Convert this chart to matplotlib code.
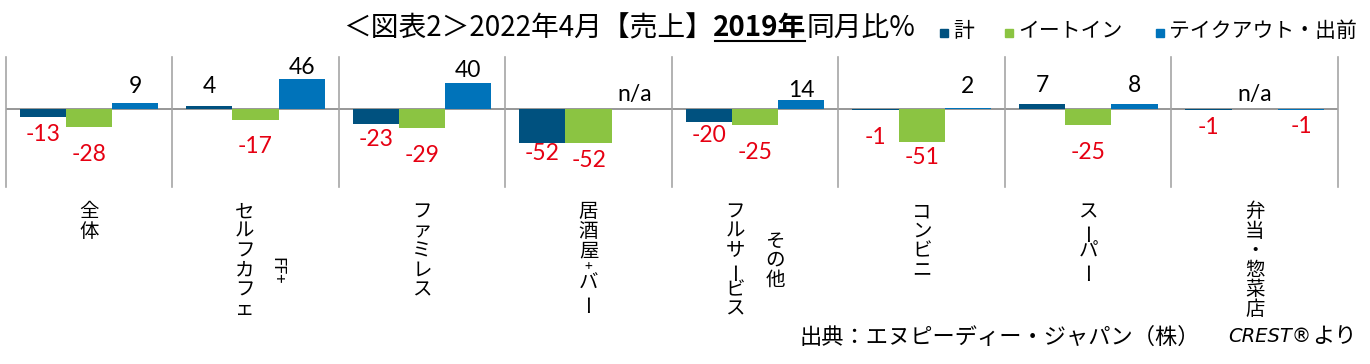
import matplotlib
matplotlib.use("Agg")
import matplotlib.pyplot as plt
import numpy as np
from matplotlib.transforms import blended_transform_factory
from matplotlib.patches import Rectangle

plt.rcParams['font.family'] = ['Noto Sans CJK JP', 'DejaVu Sans']

# data
categories = ["全体", "セルフカフェ\nFF+", "ファミレス", "居酒屋+バー",
              "フルサービス\nその他", "コンビニ", "スーパー", "弁当・惣菜店"]
series_names = ["計", "イートイン", "テイクアウト・出前"]
total = [-13, 4, -23, -52, -20, -1, 7, -1]
eat_in = [-28, -17, -29, -52, -25, -51, -25, np.nan]
take_out = [9, 46, 40, np.nan, 14, 2, 8, -1]

# label offsets from the bar end, in pixels (down = positive)
dy_total = [17, -20, 16, 11, 14, 28, -19, 18]
dy_eat_in = [27, 26, 28, 18, 27, 15, 27, -14]
dy_take_out = [-17, -12, -12, -14, -9, -21, -18, 17]

colors = ['#00517F', '#8BC442', '#0073BA']
W, H = 1370, 364


def fx(px):
    return px / W


def fy(py):
    return 1 - py / H


fig = plt.figure(figsize=(W / 100, H / 100), dpi=100)
ax = fig.add_axes([fx(5.7), fy(187), 1332.3 / W, 130 / H])

x = np.arange(len(categories))
bw = 0.2775
series = [total, eat_in, take_out]
offs = [dy_total, dy_eat_in, dy_take_out]
for k, vals in enumerate(series):
    xs = x + (k - 1) * bw
    ax.bar(xs, vals, bw, color=colors[k], zorder=3)
    for xi, v, d in zip(xs, vals, offs[k]):
        if np.isnan(v):
            s, c, yv = "n/a", "black", 0
        else:
            s = str(int(v))
            c = "black" if v >= 0 else "#E60012"
            yv = v
        ax.annotate(s, (xi, yv), xytext=(0, -d * 0.72), textcoords='offset points',
                    ha='center', va='center', fontsize=16.5, color=c,
                    family=['Lato', 'DejaVu Sans'], zorder=4)

ax.axhline(0, color='#8F8F8F', lw=1.3, zorder=2)
for b in np.arange(-0.5, len(categories)):
    ax.axvline(b, color='#A6A6A6', lw=1.2, clip_on=False)
ax.set_xlim(-0.5, len(categories) - 0.5)
ax.set_ylim(-120, 80)
ax.axis('off')

# category labels, stacked vertically
blend = blended_transform_factory(ax.transData, fig.transFigure)
pitch = 19.5
top = 202
col_dx = {1: [-11, 21], 4: [-20, 20]}
for i, lab in enumerate(categories):
    cols = lab.split("\n")
    dxs = col_dx.get(i, [0])
    main_len = len(cols[0]) * pitch
    for j, col in enumerate(cols):
        dx = dxs[j] * 0.72
        if i == 1 and j == 1:
            yc = top + main_len / 2 + 10
            ax.annotate(col, (i, fy(yc)), xycoords=blend, xytext=(dx, 0),
                        textcoords='offset points', ha='center', va='center',
                        rotation=-90, fontsize=12, annotation_clip=False)
            continue
        steps = [13 if ch == '+' else pitch for ch in col]
        length = sum(steps)
        y0 = top if j == 0 else top + (main_len - length) / 2
        for ch, st in zip(col, steps):
            yc = y0 + st / 2
            rot = 90 if ch == 'ー' else 0
            fs = 10 if ch == '+' else 14
            ax.annotate(ch, (i, fy(yc)), xycoords=blend, xytext=(dx, 0),
                        textcoords='offset points', ha='center', va='center',
                        rotation=rot, rotation_mode='anchor', fontsize=fs,
                        annotation_clip=False)
            y0 += st

# title
renderer = fig.canvas.get_renderer()
title_runs = [("＜図表2＞2022年4月【売上】", 'normal'), ("2019年", 'bold'), ("同月比%", 'normal')]
tx = 343
for s, w in title_runs:
    t = fig.text(fx(tx), fy(28), s, fontsize=20, weight=w, ha='left', va='center')
    bb = t.get_window_extent(renderer)
    if w == 'bold':
        fig.add_artist(plt.Line2D([fx(bb.x0 + 2), fx(bb.x1 - 1)], [fy(41), fy(41)],
                                  color='black', lw=1.5, transform=fig.transFigure))
    tx += bb.width

# legend
leg_x = [944, 1009, 1160]
for name, c, lx in zip(series_names, colors, leg_x):
    fig.add_artist(Rectangle((fx(lx - 4), fy(37)), 8 / W, 8 / H, color=c,
                             transform=fig.transFigure))
    fig.text(fx(lx + 9), fy(31), name, fontsize=15, ha='left', va='center')

# source
fig.text(fx(800), fy(337), "出典：エヌピーディー・ジャパン（株）", fontsize=16,
         ha='left', va='center')
fig.text(fx(1357), fy(337), "より", fontsize=16, ha='right', va='center')
fig.text(fx(1311), fy(337), "CREST®", fontsize=14, style='italic',
         family=['DejaVu Sans'], ha='right', va='center')

fig.savefig("out.png", dpi=100, facecolor='white')
